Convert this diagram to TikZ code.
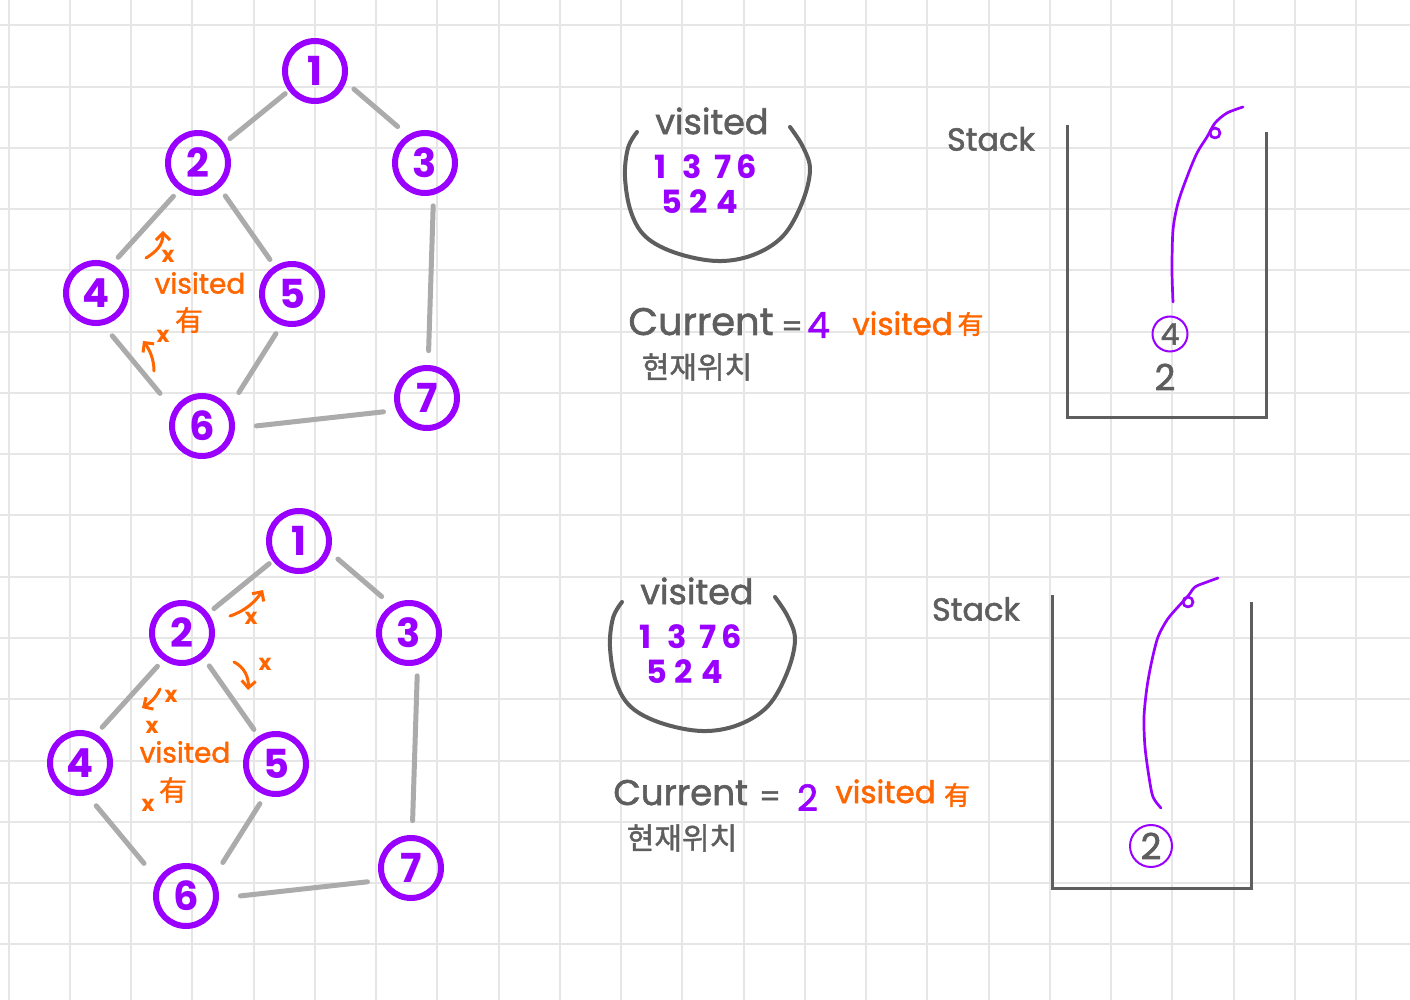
\documentclass[tikz,border=0pt]{standalone}
\usepackage{fontspec}
\setmainfont{Poppins}
\newfontfamily\hand[FakeBold=1.6]{Poppins}
\newfontfamily\kr[FakeBold=1.4]{Noto Sans CJK KR}
\usetikzlibrary{arrows.meta}
\definecolor{purp}{HTML}{9900FF}
\definecolor{orng}{HTML}{FF6600}
\definecolor{edgegray}{HTML}{ABABAB}
\definecolor{ink}{HTML}{5E5E5E}
\definecolor{gridc}{HTML}{E6E6E6}
\tikzset{
  gnode/.style={circle, draw=purp, line width=3pt, minimum size=30pt, inner sep=0pt, text=purp, font=\fontsize{20}{20}\selectfont\bfseries},
  gedge/.style={draw=edgegray, line width=2.5pt, line cap=round},
  txt/.style={inner sep=0pt, text=ink},
  ann/.style={inner sep=0pt, text=orng},
  annarrow/.style={draw=orng, line width=1.5pt, line cap=round, line join=round, -{Straight Barb[length=3.5pt,width=7pt]}},
  xmark/.style={inner sep=0pt, text=orng, font=\fontsize{11}{11}\selectfont\bfseries},
  vdigit/.style={inner sep=0pt, text=purp, font=\fontsize{16}{16}\selectfont\bfseries},
  stackbox/.style={draw=ink, line width=1.5pt},
  pen/.style={draw=purp, line width=1.35pt, line cap=round, line join=round},
  ringed/.style={circle, draw=purp, line width=1pt, inner sep=0pt, text=ink},
}
\newcommand{\drawgraph}[3]{%
  \begin{scope}[shift={(#2,#3)}]
    \node[gnode] (#1n1) at (315,71) {1};
    \node[gnode] (#1n2) at (198,163) {2};
    \node[gnode] (#1n3) at (425,163) {3};
    \node[gnode] (#1n4) at (96,293) {4};
    \node[gnode] (#1n5) at (292,294) {5};
    \node[gnode] (#1n6) at (202,426) {6};
    \node[gnode] (#1n7) at (427,398) {7};
    \draw[gedge, shorten <=2.2pt, shorten >=3.6pt] (#1n1.217) -- (#1n2.37);
    \draw[gedge, shorten <=5.2pt, shorten >=6.5pt] (#1n1.-20) -- (#1n3.122);
    \draw[gedge, shorten <=4.2pt, shorten >=4.6pt] (#1n2.235) -- (#1n4.61);
    \draw[gedge, shorten <=4.9pt, shorten >=4pt] (#1n2.-49) -- (#1n5.122);
    \draw[gedge, shorten <=5.5pt, shorten >=7.2pt] (#1n3.-75) -- (#1n7.88);
    \draw[gedge, shorten <=6.9pt, shorten >=10.5pt] (#1n4.-77) -- (#1n6.150);
    \draw[gedge, shorten <=5pt, shorten >=8.9pt] (#1n5.-109) -- (#1n6.34);
    \draw[gedge, shorten <=10.8pt, shorten >=6.5pt] (#1n6.-4) -- (#1n7.202);
  \end{scope}}
\newcommand{\drawpanel}[3]{%
  \begin{scope}[shift={(#2,#3)}]
    \draw[ink, line width=2pt, line cap=round] plot[smooth, tension=0.6] coordinates {(637,132) (628,148) (625,177) (631,212) (646,237) (676,253) (717,261) (753,255) (783,236) (802,203) (810,170) (803,147) (790,127)};
    \node[txt, font=\hand\fontsize{17.5}{18}\selectfont] (#1vis) at (712,121) {visited};
    \node[vdigit] (#1d1) at (661,167) {1};
    \node[vdigit] (#1d3) at (692,167) {3};
    \node[vdigit] (#1d7) at (723,167) {7};
    \node[vdigit] (#1d6) at (747,167) {6};
    \node[vdigit] (#1d5) at (672,202) {5};
    \node[vdigit] (#1d2) at (699,202) {2};
    \node[vdigit] (#1d4) at (727,202) {4};
    \node[txt, font=\hand\fontsize{16}{16}\selectfont] (#1stk) at (991,139) {Stack};
    \draw[stackbox] (1067,125) -- (1067,418) -- (1266,418) -- (1266,132);
  \end{scope}}
\begin{document}
\begin{tikzpicture}[x=0.5pt, y=-0.5pt]
\fill[white] (0,0) rectangle (1410,1000);
\useasboundingbox (0,0) rectangle (1410,1000);
\foreach \i in {0,...,22} \draw[gridc, line width=1pt] ({8.5+61.25*\i},0) -- ({8.5+61.25*\i},1000);
\foreach \j in {0,...,15} \draw[gridc, line width=1pt] (0,{25.5+61.25*\j}) -- (1410,{25.5+61.25*\j});

% ---------- graphs ----------
\drawgraph{a}{0}{0}
\drawgraph{b}{-16}{470}

% top graph annotations
\coordinate (aA0) at (146,258); \coordinate (aA1) at (163,231);
\draw[annarrow] (aA0) .. controls (156,252) and (163,245) .. (aA1);
\node[xmark] (ax1) at (168,256) {x};
\node[ann, font=\hand\fontsize{14}{14}\selectfont] (avis) at (200,283) {visited};
\node[ann, font=\kr\fontsize{14}{14}\selectfont] (ayou) at (189,320) {有};
\node[xmark] (ax2) at (163,336) {x};
\coordinate (aB0) at (154,371); \coordinate (aB1) at (143,341);
\draw[annarrow] (aB0) .. controls (154,360) and (150,350) .. (aB1);

% bottom graph annotations
\coordinate (bC0) at (230,616); \coordinate (bC1) at (263,590);
\draw[annarrow] (bC0) .. controls (245,611) and (255,602) .. (bC1);
\node[xmark] (bx1) at (251,618) {x};
\coordinate (bD0) at (234,662); \coordinate (bD1) at (248,690);
\draw[annarrow] (bD0) .. controls (244,667) and (249,677) .. (bD1);
\node[xmark] (bx2) at (265,664) {x};
\coordinate (bE0) at (160,689); \coordinate (bE1) at (142,708);
\draw[annarrow] (bE0) .. controls (156,698) and (150,703) .. (bE1);
\node[xmark] (bx3) at (171,696) {x};
\node[xmark] (bx4) at (152,727) {x};
\node[ann, font=\hand\fontsize{14}{14}\selectfont] (bvis) at (185,752) {visited};
\node[ann, font=\kr\fontsize{14}{14}\selectfont] (byou) at (173,790) {有};
\node[xmark] (bx5) at (148,805) {x};

% ---------- right panels ----------
\drawpanel{p}{0}{0}
\drawpanel{q}{-15}{470}

% top current row
\node[txt, anchor=base west, font=\hand\fontsize{19.2}{20}\selectfont] (pcur) at (628,335) {Current};
\node[txt, font=\hand\fontsize{15}{15}\selectfont] (peq) at (792,329) {=};
\node[inner sep=0pt, text=purp, font=\hand\fontsize{18}{18}\selectfont] (pval) at (818.5,325) {4};
\node[ann, anchor=base west, font=\hand\fontsize{15.5}{16}\selectfont] (pvis) at (852,335) {visited};
\node[ann, font=\kr\fontsize{13}{13}\selectfont] (pyou) at (970.5,324) {有};
\node[txt, font=\kr\fontsize{15}{15}\selectfont] (pkr) at (697,367) {현재위치};

% top stack contents
\draw[pen] plot[smooth] coordinates {(1173,302) (1172,270) (1173,230) (1178,203) (1187,177) (1197,153) (1207,137) (1215,123) (1227,113) (1243,107)};
\draw[pen] (1215,133) circle (2.5pt);
\node[ringed, minimum size=17.5pt, font=\hand\fontsize{15}{15}\selectfont] (ps4) at (1170,334) {4};
\node[txt, font=\hand\fontsize{18}{18}\selectfont] (ps2) at (1165,377) {2};

% bottom current row
\node[txt, anchor=base west, font=\hand\fontsize{17.8}{19}\selectfont] (qcur) at (613,805) {Current};
\node[txt, font=\hand\fontsize{15}{15}\selectfont] (qeq) at (770,799) {=};
\node[inner sep=0pt, text=purp, font=\hand\fontsize{18}{18}\selectfont] (qval) at (807.5,797.5) {2};
\node[ann, anchor=base west, font=\hand\fontsize{15.5}{16}\selectfont] (qvis) at (835,803) {visited};
\node[ann, font=\kr\fontsize{13}{13}\selectfont] (qyou) at (957,795) {有};
\node[txt, font=\kr\fontsize{15}{15}\selectfont] (qkr) at (682,838) {현재위치};

% bottom stack contents
\draw[pen] plot[smooth] coordinates {(1161,808) (1153,797) (1149,777) (1145,747) (1144,717) (1147,687) (1152,660) (1158,637) (1167,620) (1177,608) (1188,596) (1195,587) (1207,582) (1218,578)};
\draw[pen] (1188,602) circle (2.5pt);
\node[ringed, minimum size=21pt, font=\hand\fontsize{18}{18}\selectfont] (qs2) at (1151,846) {2};
\end{tikzpicture}
\end{document}
